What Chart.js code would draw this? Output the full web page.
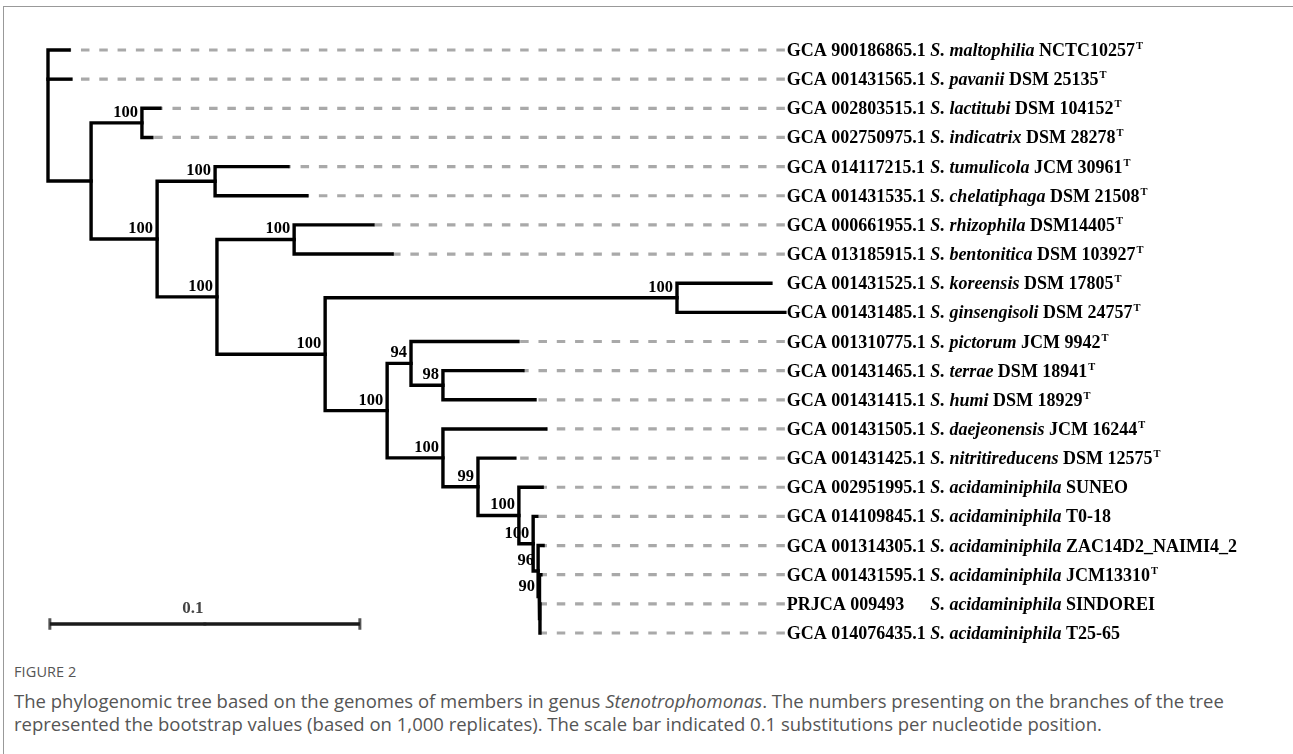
<!DOCTYPE html>
<html>
<head>
<meta charset="utf-8">
<script src="https://cdn.jsdelivr.net/npm/chart.js@4.4.1/dist/chart.umd.min.js"></script>
<style>
  body { margin: 0; background: #fff; width: 1293px; height: 754px; overflow: hidden; position: relative; }
  #tree { position: absolute; left: 0; top: 0; }
  .frame-top { position: absolute; left: 3px; right: 0; top: 6px; border-top: 1px solid #999; }
  .frame-left { position: absolute; left: 3px; top: 6px; bottom: 0; border-left: 1px solid #999; }
  #caption { position: absolute; left: 14px; top: 663px; width: 1275px; font-family: "Open Sans", sans-serif; color: #555; }
  #caption .fig { font-size: 14.5px; line-height: 18px; letter-spacing: 0.1px; }
  #caption p { margin: 8px 0 0 0; font-size: 18.5px; line-height: 23px; white-space: nowrap; }
</style>
</head>
<body>
<canvas id="tree" width="1293" height="660"></canvas>
<div class="frame-top"></div>
<div class="frame-left"></div>
<div id="caption">
  <div class="fig">FIGURE 2</div>
  <p>The phylogenomic tree based on the genomes of members in genus <i>Stenotrophomonas</i>. The numbers presenting on the branches of the tree<br>represented the bootstrap values (based on 1,000 replicates). The scale bar indicated 0.1 substitutions per nucleotide position.</p>
</div>
<script>
// leaf rows, top to bottom
const accessions = ['GCA 900186865.1', 'GCA 001431565.1', 'GCA 002803515.1', 'GCA 002750975.1', 'GCA 014117215.1',
    'GCA 001431535.1', 'GCA 000661955.1', 'GCA 013185915.1', 'GCA 001431525.1', 'GCA 001431485.1', 'GCA 001310775.1',
    'GCA 001431465.1', 'GCA 001431415.1', 'GCA 001431505.1', 'GCA 001431425.1', 'GCA 002951995.1', 'GCA 014109845.1',
    'GCA 001314305.1', 'GCA 001431595.1', 'PRJCA 009493', 'GCA 014076435.1'];
const species = ['S. maltophilia', 'S. pavanii', 'S. lactitubi', 'S. indicatrix', 'S. tumulicola', 'S. chelatiphaga',
    'S. rhizophila', 'S. bentonitica', 'S. koreensis', 'S. ginsengisoli', 'S. pictorum', 'S. terrae', 'S. humi',
    'S. daejeonensis', 'S. nitritireducens', 'S. acidaminiphila', 'S. acidaminiphila', 'S. acidaminiphila',
    'S. acidaminiphila', 'S. acidaminiphila', 'S. acidaminiphila'];
const strains = ['NCTC10257', 'DSM 25135', 'DSM 104152', 'DSM 28278', 'JCM 30961', 'DSM 21508', 'DSM14405', 'DSM 103927',
    'DSM 17805', 'DSM 24757', 'JCM 9942', 'DSM 18941', 'DSM 18929', 'JCM 16244', 'DSM 12575', 'SUNEO', 'T0-18',
    'ZAC14D2_NAIMI4_2', 'JCM13310', 'SINDOREI', 'T25-65'];
const typeStrain = [1, 1, 1, 1, 1, 1, 1, 1, 1, 1, 1, 1, 1, 1, 1, 0, 0, 0, 1, 0, 0];
// distance of each tip from the root (substitutions per site)
const leafDepth = [0.0068, 0.0074, 0.0361, 0.0335, 0.0774, 0.0835, 0.1048, 0.1110, 0.2332, 0.2377, 0.1516,
    0.1532, 0.1571, 0.1606, 0.1506, 0.1594, 0.1577, 0.1597, 0.1590, 0.1587, 0.1587];

// internal nodes: children are leaf rows (numbers) or other node ids
const nodeIds = ['root', 'A', 'B1', 'B', 'C', 'D', 'E', 'F', 'G', 'H', 'I', 'K', 'J', 'L', 'M', 'N', 'O', 'P', 'Q'];
const nodeDepth = [0, 0.0139, 0.0303, 0.0352, 0.0539, 0.0545, 0.0794, 0.0894, 0.2029, 0.1094, 0.1171, 0.1274,
    0.1274, 0.1387, 0.1519, 0.1565, 0.1581, 0.1584, 0.1587];
const nodeChildren = [[0, 1, 'A'], ['B1', 'B'], [2, 3], ['C', 'D'], [4, 5], ['E', 'F'], [6, 7], ['G', 'H'], [8, 9],
    ['I', 'J'], [10, 'K'], [11, 12], [13, 'L'], [14, 'M'], [15, 'N'], [16, 'O'], [17, 'P'], [18, 'Q'], [19, 20]];
const nodeSupport = [null, null, 100, 100, 100, 100, 100, 100, 100, 100, 94, 98, 100, 99, 100, 100, 96, 90, null];

const scaleBarStart = 0.0006;
const scaleBarLength = 0.1;
const scaleBarRow = 19.69;

function depthOf(ref) {
    return typeof ref === 'number' ? leafDepth[ref] : nodeDepth[nodeIds.indexOf(ref)];
}

// a node sits half way between its first and last child
function rowOf(ref) {
    if (typeof ref === 'number') return ref;
    const kids = nodeChildren[nodeIds.indexOf(ref)];
    return (rowOf(kids[0]) + rowOf(kids[kids.length - 1])) / 2;
}

const branchStyle = {
    borderColor: '#000', borderWidth: 3.4, showLine: true, pointRadius: 0,
    borderCapStyle: 'square', borderJoinStyle: 'miter', fill: false
};

const datasets = [];

// one bracket per internal node
nodeIds.forEach((id, i) => {
    const kids = nodeChildren[i];
    const d = nodeDepth[i];
    const first = kids[0];
    const last = kids[kids.length - 1];
    datasets.push({
        ...branchStyle,
        data: [
            { x: depthOf(first), y: rowOf(first) },
            { x: d, y: rowOf(first) },
            { x: d, y: rowOf(last) },
            { x: depthOf(last), y: rowOf(last) }
        ]
    });
    kids.slice(1, -1).forEach(k => {
        datasets.push({ ...branchStyle, data: [{ x: d, y: rowOf(k) }, { x: depthOf(k), y: rowOf(k) }] });
    });
});

// scale bar
const barEnd = scaleBarStart + scaleBarLength;
datasets.push({
    ...branchStyle, borderColor: '#1a1a1a', borderWidth: 3.5, borderCapStyle: 'butt',
    data: [{ x: scaleBarStart, y: scaleBarRow }, { x: barEnd, y: scaleBarRow }]
});
[[scaleBarStart, 0.2], [scaleBarStart + scaleBarLength / 2, 0.05], [barEnd, 0.2]].forEach(([bx, h]) => {
    datasets.push({
        ...branchStyle, borderColor: '#555', borderWidth: 3, borderCapStyle: 'butt',
        data: [{ x: bx, y: scaleBarRow - h }, { x: bx, y: scaleBarRow + h }]
    });
});

// grey dashed guides from each tip to the label column
const alignDepth = Math.max(...leafDepth);
leafDepth.forEach((d, row) => {
    if (alignDepth - d < 0.006) return;
    datasets.push({
        borderColor: '#a9a9a9', borderWidth: 3.2, borderDash: [8.5, 9.8], borderCapStyle: 'butt',
        showLine: true, pointRadius: 0,
        data: [{ x: alignDepth, y: row }, { x: d, y: row }]
    });
});

// leaf names, bootstrap values and the scale bar label
const treeLabels = {
    id: 'treeLabels',
    afterDatasetsDraw(chart) {
        const { ctx } = chart;
        const xs = chart.scales.x;
        const ys = chart.scales.y;
        const bold = 'bold 18px "Liberation Serif"';
        const ital = 'italic bold 18px "Liberation Serif"';
        ctx.save();
        ctx.fillStyle = '#000';
        ctx.textBaseline = 'alphabetic';
        ctx.textAlign = 'left';

        const left = xs.getPixelForValue(alignDepth) + 2;
        ctx.font = bold;
        const speciesX = left + Math.max(...accessions.map(a => ctx.measureText(a + ' ').width));

        accessions.forEach((acc, row) => {
            const base = ys.getPixelForValue(row) + 6;
            ctx.font = bold;
            ctx.fillText(acc, left, base);
            ctx.font = ital;
            ctx.fillText(species[row], speciesX, base);
            let cx = speciesX + ctx.measureText(species[row] + ' ').width;
            ctx.font = bold;
            ctx.fillText(strains[row], cx, base);
            if (typeStrain[row]) {
                cx += ctx.measureText(strains[row]).width + 1;
                ctx.font = 'bold 10.5px "Liberation Serif"';
                ctx.fillText('T', cx, base - 7);
            }
        });

        ctx.font = 'bold 16.5px "Liberation Serif"';
        ctx.textAlign = 'right';
        nodeIds.forEach((id, i) => {
            if (nodeSupport[i] == null) return;
            ctx.fillText(String(nodeSupport[i]), xs.getPixelForValue(nodeDepth[i]) - 4, ys.getPixelForValue(rowOf(id)) - 6);
        });

        ctx.font = 'bold 17px "Liberation Serif"';
        ctx.fillStyle = '#444';
        ctx.textAlign = 'center';
        const mid = (xs.getPixelForValue(scaleBarStart) + xs.getPixelForValue(barEnd)) / 2;
        ctx.fillText(String(scaleBarLength), mid - 12, ys.getPixelForValue(scaleBarRow) - 11);
        ctx.restore();
    }
};

new Chart(document.getElementById('tree'), {
    type: 'scatter',
    data: { datasets: datasets },
    options: {
        responsive: false,
        animation: false,
        devicePixelRatio: 1,
        events: [],
        layout: { padding: 0 },
        elements: { line: { tension: 0 }, point: { radius: 0 } },
        plugins: { legend: { display: false }, tooltip: { enabled: false } },
        scales: {
            x: { type: 'linear', display: false, min: -0.015484, max: 0.401613 },
            y: { type: 'linear', display: false, reverse: true, min: -1.7153, max: 20.926 }
        }
    },
    plugins: [treeLabels]
});
</script>
</body>
</html>
